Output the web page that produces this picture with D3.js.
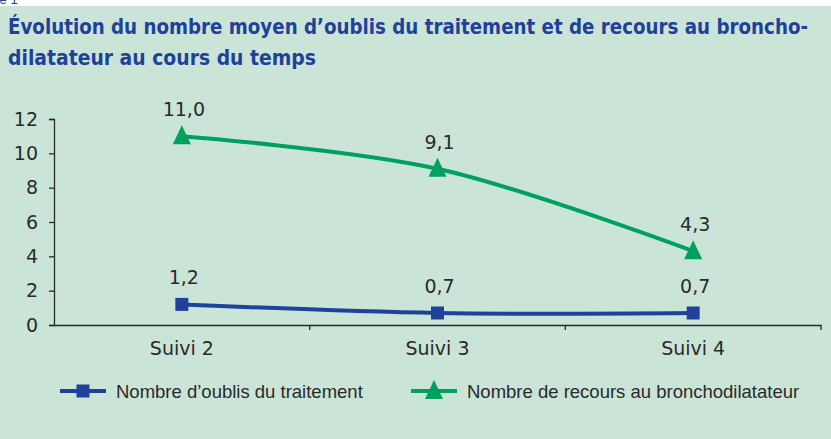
<!DOCTYPE html>
<html>
<head>
<meta charset="utf-8">
<script src="https://cdn.jsdelivr.net/npm/d3@7"></script>
<style>
  body { margin: 0; background: #fff; }
  svg { display: block; }
</style>
</head>
<body>
<div id="chart"></div>
<script>
// chart data
var categories = ["Suivi 2", "Suivi 3", "Suivi 4"];
var oublis = [1.2, 0.7, 0.7];
var recours = [11.0, 9.1, 4.3];
var yTicks = [0, 2, 4, 6, 8, 10, 12];
var seriesNames = ["Nombre d\u2019oublis du traitement", "Nombre de recours au bronchodilatateur"];
var titleLines = ["\u00c9volution du nombre moyen d\u2019oublis du traitement et de recours au broncho-",
                  "dilatateur au cours du temps"];

var width = 831, height = 439;
var blue = "#1f4199", green = "#00a15c", bg = "#cae4d8", ink = "#2a2a2a";
var numFont = "'DejaVu Sans', sans-serif";
var legFont = "'Liberation Sans', Arial, sans-serif";

var svg = d3.select("#chart").append("svg")
  .attr("width", width)
  .attr("height", height);

// cut-off caption at the very top
svg.append("text")
  .attr("x", -12).attr("y", 4)
  .style("font-family", legFont).style("font-size", "13px")
  .style("fill", blue)
  .text("ure 1");

svg.append("rect")
  .attr("x", 0).attr("y", 6)
  .attr("width", width).attr("height", height - 6)
  .style("fill", bg);

// title: a smaller bold face stretched upward to look like the condensed original
var titleWidths = [800, 308];
svg.selectAll(".title")
  .data(titleLines)
  .enter().append("g")
    .attr("transform", function(d, i) { return "translate(8," + (34 + i * 31) + ") scale(1,1.22)"; })
  .append("text")
    .attr("textLength", function(d, i) { return titleWidths[i]; })
    .attr("lengthAdjust", "spacingAndGlyphs")
    .style("font-family", "'DejaVu Sans', sans-serif")
    .style("font-weight", "bold")
    .style("font-size", "18px")
    .style("fill", blue)
    .text(function(d) { return d; });

var margin = {left: 54, right: 10};

var x = d3.scaleBand()
  .domain(categories)
  .range([margin.left, width - margin.right]);

var y = d3.scaleLinear()
  .domain([0, 12])
  .range([325, 119]);

// y axis
var yAxis = svg.append("g")
  .attr("transform", "translate(" + margin.left + ",0)")
  .call(d3.axisLeft(y).tickValues(yTicks).tickSize(5).tickPadding(11).tickFormat(d3.format("d")));
yAxis.select(".domain").attr("stroke", ink).attr("stroke-width", 1.3);
yAxis.selectAll(".tick line").attr("stroke", ink).attr("stroke-width", 1.3);
yAxis.selectAll(".tick text")
  .style("font-family", numFont).style("font-size", "19px").style("fill", ink);

// x axis
var xAxis = svg.append("g")
  .attr("transform", "translate(0," + y(0) + ")")
  .call(d3.axisBottom(x).tickSize(0).tickPadding(17));
xAxis.select(".domain").attr("stroke", ink).attr("stroke-width", 1.3);
xAxis.selectAll(".tick text")
  .style("font-family", numFont).style("font-size", "19px").style("fill", ink);

// tick marks between the categories
var bounds = [1, 2, 3].map(function(i) { return margin.left + i * x.step(); });
svg.selectAll(".xtick")
  .data(bounds)
  .enter().append("line")
    .attr("x1", function(d) { return d; }).attr("x2", function(d) { return d; })
    .attr("y1", y(0)).attr("y2", y(0) + 5)
    .attr("stroke", ink).attr("stroke-width", 1.3);

var cx = function(i) { return x(categories[i]) + x.bandwidth() / 2; };

var line = d3.line()
  .x(function(d, i) { return cx(i); })
  .y(function(d) { return y(d); })
  .curve(d3.curveCatmullRom.alpha(0.5));

var square = "M-6.5,-6.5H6.5V6.5H-6.5Z";
var triangle = "M0,-11L9,8H-9Z";

function drawSeries(values, color, shape) {
  svg.append("path")
    .datum(values)
    .attr("d", line)
    .style("fill", "none")
    .style("stroke", color)
    .style("stroke-width", 4);

  svg.selectAll(null)
    .data(values)
    .enter().append("path")
      .attr("transform", function(d, i) { return "translate(" + cx(i) + "," + y(d) + ")"; })
      .attr("d", shape)
      .style("fill", color);

  svg.selectAll(null)
    .data(values)
    .enter().append("text")
      .attr("x", function(d, i) { return cx(i) + 2; })
      .attr("y", function(d) { return y(d) - 20; })
      .attr("text-anchor", "middle")
      .style("font-family", numFont).style("font-size", "19px").style("fill", ink)
      .text(function(d) { return d3.format(".1f")(d).replace(".", ","); });
}

drawSeries(oublis, blue, square);
drawSeries(recours, green, triangle);

// legend
var legend = [
  {name: seriesNames[0], color: blue, shape: square, x: 60},
  {name: seriesNames[1], color: green, shape: triangle, x: 411}
];
var lg = svg.selectAll(".legend")
  .data(legend)
  .enter().append("g")
    .attr("transform", function(d) { return "translate(" + d.x + ",391)"; });
lg.append("line")
  .attr("x1", 0).attr("x2", 46)
  .style("stroke", function(d) { return d.color; })
  .style("stroke-width", 4);
lg.append("path")
  .attr("transform", "translate(23,0)")
  .attr("d", function(d) { return d.shape; })
  .style("fill", function(d) { return d.color; });
lg.append("text")
  .attr("x", 56).attr("y", 7)
  .style("font-family", legFont).style("font-size", "18.5px").style("fill", ink)
  .text(function(d) { return d.name; });
</script>
</body>
</html>
